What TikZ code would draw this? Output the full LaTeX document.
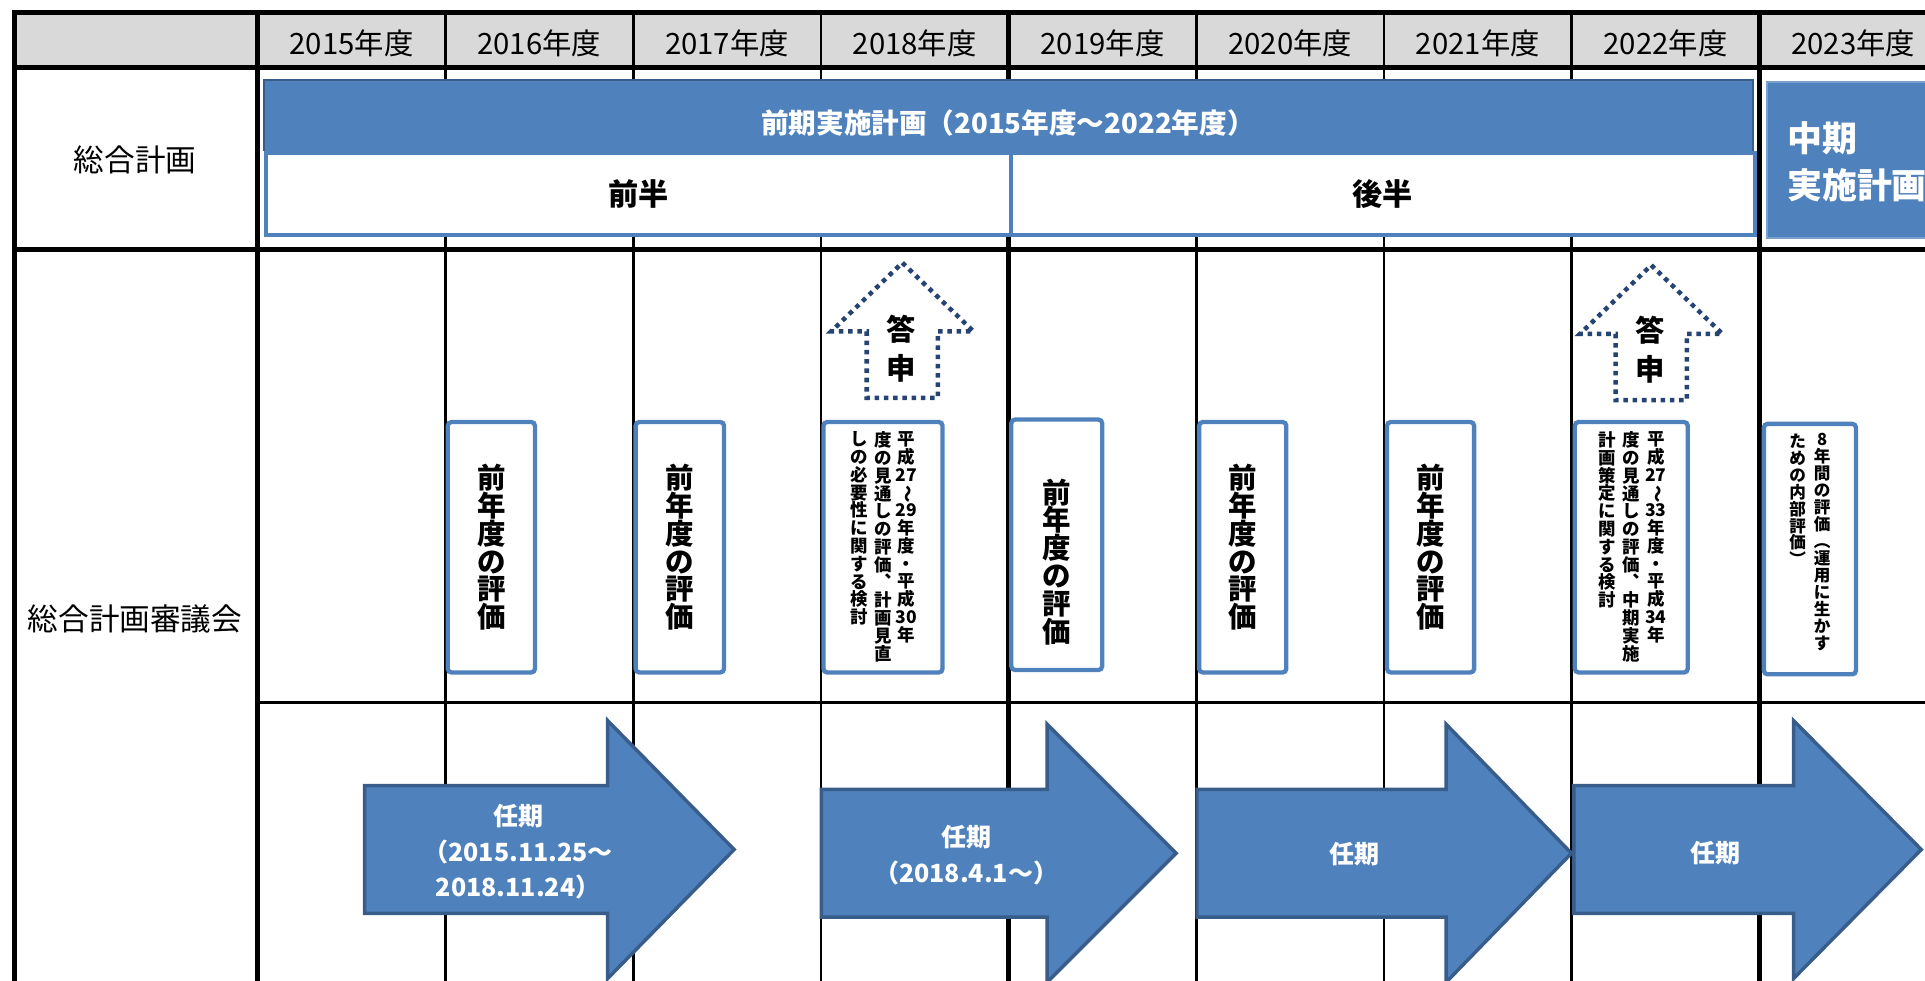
\documentclass[tikz,border=0pt]{standalone}
\usepackage{fontspec}
\setmainfont{Noto Sans CJK JP}
\usepackage{graphicx}
\usepackage{tikz}
\usetikzlibrary{positioning}

\definecolor{headgray}{RGB}{217,217,217}
\definecolor{planblue}{RGB}{79,129,189}
\definecolor{planedge}{RGB}{56,93,138}
\definecolor{replyblue}{RGB}{38,68,115}
\newcommand{\tatewave}{\rotatebox[origin=c]{-90}{～}}

\begin{document}
\begin{tikzpicture}[x=0.1mm,y=0.1mm,
    thickrule/.style={line width=1.15pt,line cap=rect},
    thinrule/.style={line width=0.65pt},
    yearlbl/.style={inner sep=0pt,font=\fontsize{6.8}{8}\selectfont},
    rowlbl/.style={inner sep=0pt,font=\fontsize{7.1}{8}\selectfont},
    halfbox/.style={draw=planblue,line width=0.93pt,fill=white,anchor=north west,minimum width=60.65mm,minimum height=6.7mm,inner sep=0pt,font=\bfseries\fontsize{7}{8}\selectfont},
    evaltxt/.style={inner sep=0pt,align=center,font=\bfseries\fontsize{6.6}{6.47}\selectfont},
    evalbox/.style={evaltxt,draw=planblue,line width=1pt,fill=white,rounded corners=0.3mm,anchor=north west,minimum height=20.4mm},
    vcol/.style={inner sep=0pt,align=center,font=\bfseries\fontsize{4.05}{4.12}\selectfont},
    replyarrow/.style={draw=replyblue,line width=1.05pt,dash pattern=on 1.05pt off 1.1pt},
    replylbl/.style={inner sep=0pt,align=center,font=\bfseries\fontsize{6.8}{9.1}\selectfont},
    termarrow/.style={draw=planedge,fill=planblue,line width=0.8pt},
    termlbl/.style={inner sep=0pt,align=center,text=white,font=\bfseries\fontsize{5.8}{8.2}\selectfont}]

        \useasboundingbox (0,0) rectangle (1568,-799);
        \clip (0,0) rectangle (1568,-799);

        % table
        \fill[headgray] (12,-10) rectangle (1590,-55);
        \draw[thickrule] (12,-10) -- (1590,-10);
        \draw[thickrule] (12,-55) -- (1590,-55);
        \draw[thickrule] (12,-203) -- (1590,-203);
        \draw[thinrule] (210,-572) -- (1590,-572);
        \foreach \xv in {12,210,821.6,1433}
            \draw[thickrule] (\xv,-10) -- (\xv,-810);
        \foreach \xv in {362.9,515.8,668.7,974.5,1127.4,1280.3}
            \draw[thinrule] (\xv,-10) -- (\xv,-810);

        \foreach \yr [count=\i from 0] in {2015,...,2023}
            \node[yearlbl] (year\yr) at ({286.4+152.9*\i},-35) {\yr 年度};

        \node[rowlbl] (lblplan) at (110,-130) {総合計画};
        \node[rowlbl] (lblcouncil) at (110,-504) {総合計画審議会};

        % plan row
        \draw[planedge,line width=0.6pt,fill=planblue] (215,-123) -- (215,-65) -- (1428,-65) -- (1428,-123);
        \node[inner sep=0pt,text=white,font=\bfseries\fontsize{6.4}{8}\selectfont] (plantitle) at (821,-100) {前期実施計画（2015年度～2022年度）};
        \node[halfbox] (firsthalf) at (215,-123) {前半};
        \node[halfbox] (secondhalf) at (821.5,-123) {後半};

        \filldraw[fill=planblue,draw=planblue!75!white,line width=0.5pt] (1439,-67) rectangle (1590,-194);
        \node[anchor=west,align=left,inner sep=0pt,text=white,font=\bfseries\fontsize{8.1}{10.8}\selectfont] (midplan) at (1455,-132) {中期\\実施計画};

        % council row
        \node[evalbox,minimum width=7.1mm] (evalA) at (363,-342) {前\\年\\度\\の\\評\\価};
        \node[evalbox,minimum width=7.2mm] (evalB) at (516,-342) {前\\年\\度\\の\\評\\価};
        \node[evalbox,minimum width=9.7mm] (evalC) at (669,-342) {};
        \node[evalbox,minimum width=7.4mm] (evalD) at (822,-340) {};
        \node[evalbox,minimum width=7.1mm] (evalE) at (975,-342) {前\\年\\度\\の\\評\\価};
        \node[evalbox,minimum width=7.1mm] (evalF) at (1128,-342) {前\\年\\度\\の\\評\\価};
        \node[evalbox,minimum width=9.2mm] (evalG) at (1281,-342) {};
        \node[evalbox,minimum width=7.5mm] (evalH) at (1435,-343.5) {};

        \node[evaltxt] (evalDtxt) at ([yshift=-1.4mm]evalD.center) {前\\年\\度\\の\\評\\価};

        \node[vcol,below=0.9mm of evalC.north,xshift=1.9mm] (evalC1) {平\\成\\27\\\tatewave\\29\\年\\度\\・\\平\\成\\30\\年};
        \node[vcol,below=0.9mm of evalC.north] (evalC2) {度\\の\\見\\通\\し\\の\\評\\価\\︑\\計\\画\\見\\直};
        \node[vcol,below=0.9mm of evalC.north,xshift=-1.9mm] (evalC3) {し\\の\\必\\要\\性\\に\\関\\す\\る\\検\\討};

        \node[vcol,below=0.9mm of evalG.north,xshift=2mm] (evalG1) {平\\成\\27\\\tatewave\\33\\年\\度\\・\\平\\成\\34\\年};
        \node[vcol,below=0.9mm of evalG.north] (evalG2) {度\\の\\見\\通\\し\\の\\評\\価\\︑\\中\\期\\実\\施};
        \node[vcol,below=0.9mm of evalG.north,xshift=-2mm] (evalG3) {計\\画\\策\\定\\に\\関\\す\\る\\検\\討};

        \node[vcol,font=\bfseries\fontsize{3.85}{3.93}\selectfont,below=0.9mm of evalH.north,xshift=1mm] (evalH1) {8\\年\\間\\の\\評\\価\\︵\\運\\用\\に\\生\\か\\す};
        \node[vcol,font=\bfseries\fontsize{3.85}{3.93}\selectfont,below=0.9mm of evalH.north,xshift=-1mm] (evalH2) {た\\め\\の\\内\\部\\評\\価\\︶};

        % reply arrows
        \foreach \xc/\yt in {735/214,1345/216}
            \draw[replyarrow] (\xc,-\yt) -- ++(58,-56) -- ++(-29,0) -- ++(0,-54) -- ++(-58,0) -- ++(0,54) -- ++(-29,0) -- cycle;
        \node[replylbl] (replyA) at (734,-284) {答\\申};
        \node[replylbl] (replyB) at (1344,-285) {答\\申};

        % terms
        \foreach \xl/\xh/\xt/\yc in {297/495/598/692,669/853/958/695,975/1178/1280/695,1282/1461/1565/692}
            \draw[termarrow] (\xl,{52-\yc}) -- (\xh,{52-\yc}) -- (\xh,{105-\yc}) -- (\xt,-\yc) -- (\xh,{-105-\yc}) -- (\xh,{-52-\yc}) -- (\xl,{-52-\yc}) -- cycle;
        \node[termlbl] (termA) at (422,-694) {任期\\（2015.11.25～\\2018.11.24）};
        \node[termlbl] (termB) at (787,-696.5) {任期\\（2018.4.1～）};
        \node[termlbl] (termC) at (1103,-696) {任期};
        \node[termlbl] (termD) at (1397,-695) {任期};

\end{tikzpicture}
\end{document}
